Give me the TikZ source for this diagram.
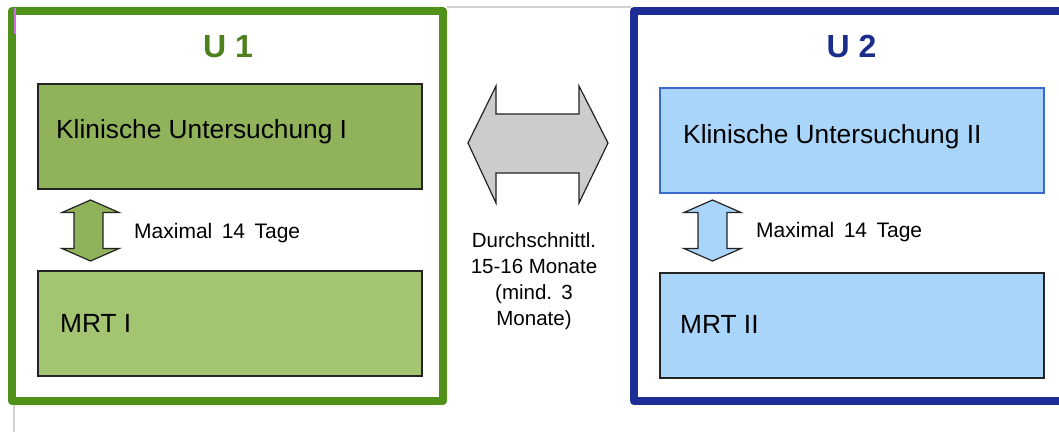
\documentclass[tikz,border=0pt]{standalone}
\usepackage{fontspec}
\setmainfont{Liberation Sans}
\definecolor{gframe}{RGB}{80,145,25}
\definecolor{gtitle}{RGB}{78,128,30}
\definecolor{gfillA}{RGB}{143,178,90}
\definecolor{gfillB}{RGB}{163,197,113}
\definecolor{bframe}{RGB}{30,45,150}
\definecolor{btitle}{RGB}{26,45,138}
\definecolor{bfill}{RGB}{170,213,251}
\definecolor{bedge}{RGB}{60,105,205}
\definecolor{edgedark}{RGB}{35,35,35}
\definecolor{arrowgray}{RGB}{204,204,204}
\definecolor{artgray}{RGB}{210,210,210}
\definecolor{artpurple}{RGB}{205,110,225}
\tikzset{
  frame/.style={draw, line width=8pt, line join=round, fill=white},
  box/.style={rectangle, draw=edgedark, line width=1.2pt, minimum width=384pt, minimum height=105pt, inner sep=0pt},
  boxtext/.style={anchor=base west, inner sep=0pt, font=\fontsize{26.3}{31}\selectfont},
  title/.style={anchor=base, inner sep=0pt, font=\fontsize{32}{38}\selectfont\bfseries},
  note/.style={anchor=base west, inner sep=0pt, font=\fontsize{21}{25}\selectfont},
  blockarrow/.style={draw=edgedark, line width=1.2pt, line join=miter},
}
\begin{document}
\begin{tikzpicture}[x=1pt,y=-1pt]
\useasboundingbox (0,0) rectangle (1059,432);
% screenshot artefacts
\draw[artgray, line width=1.2pt] (447,7) -- (631,7);
\draw[artgray, line width=1.5pt] (14,405) -- (14,432);
% frames
\draw[frame, draw=gframe] (12,11) rectangle (443,401);
\draw[frame, draw=bframe] (634,11) rectangle (1075,401);
\draw[artpurple, line width=2pt] (15,8) -- (15,34);
% titles
\node[title, text=gtitle] (u1) at (228,57) {U 1};
\node[title, text=btitle] (u2) at (851.5,57) {U 2};
% green boxes
\node[box, fill=gfillA] (k1) at (230,136.5) {};
\node[box, fill=gfillB] (m1) at (230,323.5) {};
\node[boxtext] (k1t) at (56,138) {Klinische Untersuchung I};
\node[boxtext] (m1t) at (60,332) {MRT I};
% blue boxes
\node[box, fill=bfill, draw=bedge] (k2) at (852,140.5) {};
\node[box, fill=bfill] (m2) at (852,325.5) {};
\node[boxtext] (k2t) at (683,143) {Klinische Untersuchung II};
\node[boxtext] (m2t) at (680,333) {MRT II};
% vertical double arrows
\draw[blockarrow, fill=gfillA] (90.5,200) -- (119,212.5) -- (103,212.5) -- (103,248.5) -- (119,248.5) -- (90.5,261) -- (62,248.5) -- (74,248.5) -- (74,212.5) -- (62,212.5) -- cycle;
\draw[blockarrow, fill=bfill] (712.5,200) -- (741,212.5) -- (727,212.5) -- (727,248.5) -- (741,248.5) -- (712.5,261) -- (684,248.5) -- (698,248.5) -- (698,212.5) -- (684,212.5) -- cycle;
\node[note] (n1) at (134,238.5) {Maximal\hspace{0.45em}14\hspace{0.45em}Tage};
\node[note] (n2) at (756,237.5) {Maximal\hspace{0.45em}14\hspace{0.45em}Tage};
% horizontal gray double arrow
\draw[blockarrow, fill=arrowgray] (468,143) -- (496,86) -- (496,114) -- (579,114) -- (579,86) -- (608,143) -- (579,203) -- (579,173) -- (496,173) -- (496,203) -- cycle;
\node[align=center, inner sep=0pt, font=\fontsize{20.5}{26}\selectfont] (dur) at (534,281) {Durchschnittl.\\15-16 Monate\\(mind.\hspace{0.45em}3\\Monate)};
\end{tikzpicture}
\end{document}
